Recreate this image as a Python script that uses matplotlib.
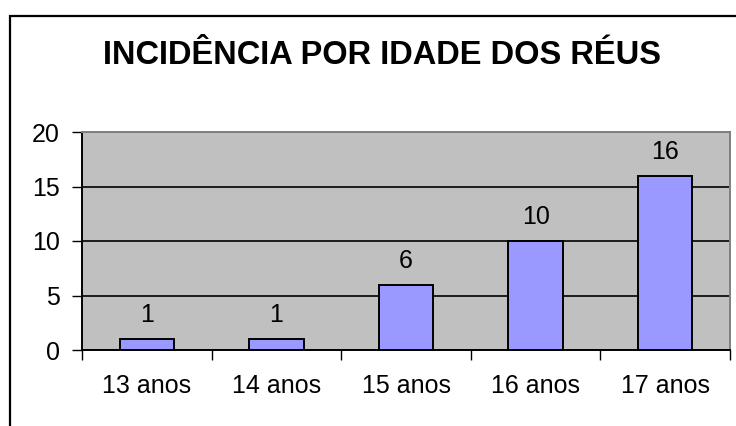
import numpy as np
import matplotlib.pyplot as plt
from matplotlib.patches import Rectangle

categories = ["13 anos", "14 anos", "15 anos", "16 anos", "17 anos"]
counts = [1, 1, 6, 10, 16]
yticks = [0, 5, 10, 15, 20]
title = "INCIDÊNCIA POR IDADE DOS RÉUS"

W, H = 736, 426
plt.rcParams['font.family'] = ['Liberation Sans', 'DejaVu Sans']
fig = plt.figure(figsize=(W / 100, H / 100), dpi=100)

# outer chart frame (cropped on right/bottom)
fig.patches.append(Rectangle((10 / W, -0.1), 1.2, 1.1 - 16 / H, transform=fig.transFigure,
                             fill=False, edgecolor="black", linewidth=1.6))

left, right, top, bottom = 82, 730, 132, 350
ax = fig.add_axes([left / W, 1 - bottom / H, (right - left) / W, (bottom - top) / H])
ax.set_facecolor("#C0C0C0")

x = np.arange(len(categories))
bars = ax.bar(x, counts, width=0.42, color="#9999FF", edgecolor="black", linewidth=1.4, zorder=3)
for xi, v in zip(x, counts):
    ax.text(xi, v + 1.1, str(v), ha="center", va="bottom", fontsize=18)

ax.set_xlim(-0.5, len(categories) - 0.5)
ax.set_ylim(0, 20)
ax.set_yticks(yticks)
ax.set_yticklabels([str(t) for t in yticks], fontsize=18)
ax.yaxis.grid(True, color="black", linewidth=1.2, zorder=1)
ax.set_axisbelow(True)

# x ticks between categories, labels centered
ax.set_xticks(np.arange(-0.5, len(categories)), minor=False)
ax.set_xticklabels([])
ax.set_xticks(x, minor=True)
ax.set_xticklabels(categories, minor=True, fontsize=18)
ax.tick_params(axis="x", which="minor", length=0, pad=17)
ax.tick_params(axis="x", which="major", length=7, width=1, color="black")
ax.tick_params(axis="y", length=7, width=1, pad=9)

ax.spines["left"].set_color("black")
ax.spines["left"].set_linewidth(1.4)
ax.spines["bottom"].set_color("black")
ax.spines["bottom"].set_linewidth(1.4)
ax.spines["top"].set_color("#808080")
ax.spines["right"].set_color("#808080")
ax.spines["top"].set_linewidth(1.4)
ax.spines["right"].set_linewidth(1.4)

fig.text(382 / W, 1 - 56 / H, title, ha="center", va="center", fontsize=23.5, fontweight="bold")

fig.savefig("out.png", dpi=100)
